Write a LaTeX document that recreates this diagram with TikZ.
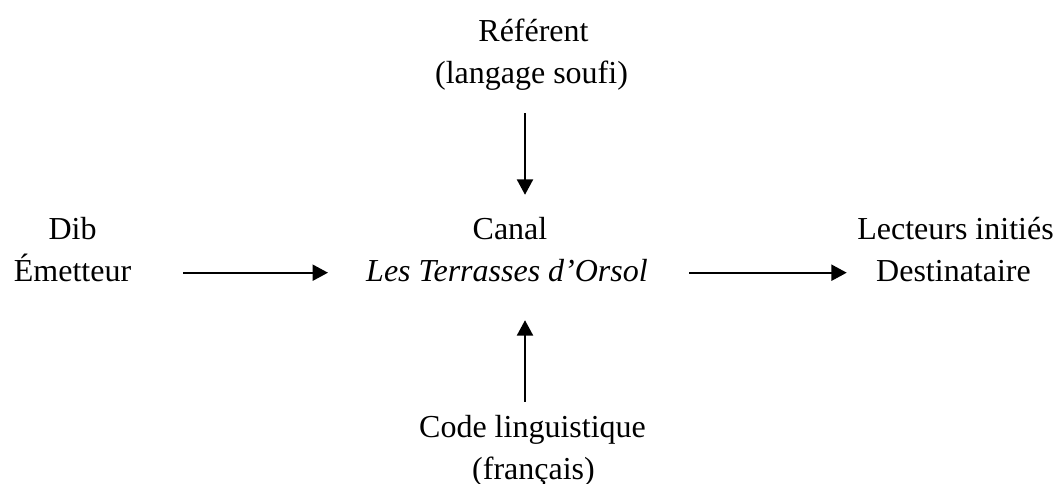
\documentclass[tikz,border=0pt]{standalone}
\usepackage{fontspec}
\setmainfont{Liberation Serif}
\usetikzlibrary{arrows.meta}
\tikzstyle{texte}=[inner sep=0pt,text height=22pt,text depth=9.5pt,font=\fontsize{24}{31.5}\selectfont]
\tikzstyle{fleche}=[line width=1.5pt,-{Triangle[length=11.5pt,width=12pt]}]
\begin{document}
\begin{tikzpicture}[x=0.75pt,y=-0.75pt]
\useasboundingbox (0,0) rectangle (1064,484);
\coordinate (axe) at (525,0);
% referent
\node[texte] (ref) at (533.5,32.7) {Référent};
\node[texte] (soufi) at (531.5,74.7) {(langage soufi)};
% emetteur
\node[texte] (dib) at (72.5,230.7) {Dib};
\node[texte] (emet) at (72.5,272.7) {Émetteur};
% canal
\node[texte] (canal) at (510,230.7) {Canal};
\node[texte] (orsol) at (507,272.7) {\itshape Les Terrasses d’Orsol};
% destinataire
\node[texte] (lect) at (955.5,230.7) {Lecteurs initiés};
\node[texte] (dest) at (953.5,272.7) {Destinataire};
% code
\node[texte] (code) at (532.5,428.7) {Code linguistique};
\node[texte] (fr) at (533.5,470.7) {(français)};
%fleches
\draw[fleche,shorten <=38.9pt,shorten >=28.5pt] (emet.east)--(orsol.west);
\draw[fleche,shorten <=30.8pt,shorten >=21.9pt] (orsol.east)--(dest.west);
\draw[fleche,shorten <=13pt,shorten >=11pt] (soufi.south -| axe)--(canal.north -| axe);
\draw[fleche,shorten <=4.3pt,shorten >=19.7pt] (code.north -| axe)--(orsol.south -| axe);
\end{tikzpicture}
\end{document}
